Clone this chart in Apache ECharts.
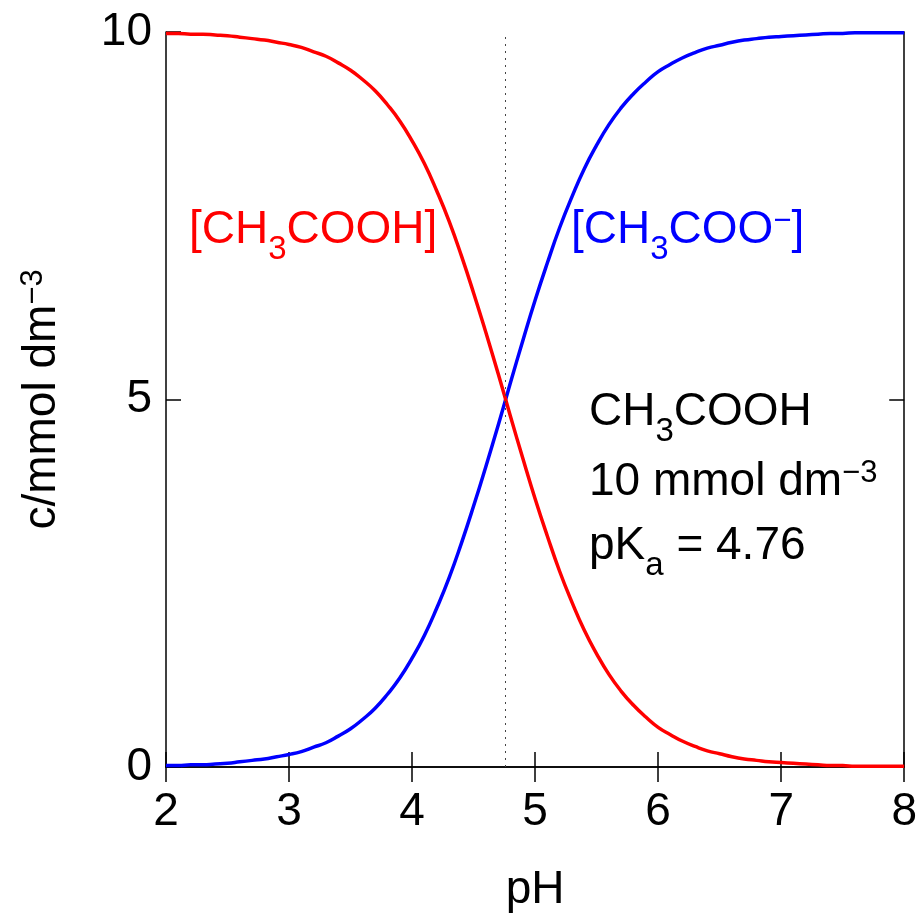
<!DOCTYPE html>
<html>
<head>
<meta charset="utf-8">
<script src="https://cdn.jsdelivr.net/npm/echarts@6/dist/echarts.min.js"></script>
<style>html,body{margin:0;padding:0;background:#fff}#c{width:920px;height:918px}</style>
</head>
<body>
<div id="c"></div>
<script>
// pH values (x)
const pH = [2.0,2.1,2.2,2.3,2.4,2.5,2.6,2.7,2.8,2.9,3.0,3.1,3.2,3.3,3.4,3.5,3.6,3.7,3.8,3.9,
            4.0,4.1,4.2,4.3,4.4,4.5,4.6,4.7,4.8,4.9,5.0,5.1,5.2,5.3,5.4,5.5,5.6,5.7,5.8,5.9,
            6.0,6.1,6.2,6.3,6.4,6.5,6.6,6.7,6.8,6.9,7.0,7.1,7.2,7.3,7.4,7.5,7.6,7.7,7.8,7.9,8.0];
// [CH3COOH] in mmol dm-3
const acid = [9.98,9.98,9.97,9.97,9.96,9.95,9.93,9.91,9.89,9.86,9.83,9.79,9.73,9.67,9.58,9.48,9.35,9.20,9.01,8.79,
              8.52,8.21,7.84,7.43,6.96,6.45,5.91,5.35,4.77,4.20,3.65,3.14,2.66,2.24,1.86,1.54,1.26,1.03,0.84,0.68,
              0.54,0.44,0.35,0.28,0.22,0.18,0.14,0.11,0.09,0.07,0.06,0.05,0.04,0.03,0.02,0.02,0.01,0.01,0.01,0.01,0.01];
// [CH3COO-] in mmol dm-3
const base = [0.02,0.02,0.03,0.03,0.04,0.05,0.07,0.09,0.11,0.14,0.17,0.21,0.27,0.33,0.42,0.52,0.65,0.80,0.99,1.21,
              1.48,1.79,2.16,2.57,3.04,3.55,4.09,4.65,5.23,5.80,6.35,6.86,7.34,7.76,8.14,8.46,8.74,8.97,9.16,9.32,
              9.46,9.56,9.65,9.72,9.78,9.82,9.86,9.89,9.91,9.93,9.94,9.95,9.96,9.97,9.98,9.98,9.99,9.99,9.99,9.99,9.99];
const pKa = 4.76;

const FONT = '"Liberation Sans", Arial, Helvetica, sans-serif';
const FS = 46;
const chart = echarts.init(document.getElementById('c'), null, {renderer:'canvas'});

function rich(color){
  return {
    n:{fontSize:FS,lineHeight:52,color:color,fill:color,fontFamily:FONT},
    s:{fontSize:33,lineHeight:30,padding:[29,0,0,0],color:color,fill:color,fontFamily:FONT,verticalAlign:'top'},
    p:{fontSize:31,lineHeight:30,padding:[2,0,0,0],color:color,fill:color,fontFamily:FONT,verticalAlign:'top'}
  };
}
const axisLine = {show:true,lineStyle:{color:'#000',width:1.5}};
const tick = {show:true,inside:true,length:15,lineStyle:{color:'#000',width:1.5}};

chart.setOption({
  animation:false,
  backgroundColor:'#fff',
  grid:{left:166,right:11,top:32,bottom:145,containLabel:false},
  xAxis:[{
    type:'value',min:2,max:8,interval:1,
    name:'pH',nameLocation:'middle',nameGap:100,
    nameTextStyle:{fontSize:FS,color:'#000',fontFamily:FONT},
    axisLine:axisLine,axisTick:tick,splitLine:{show:false},
    axisLabel:{fontSize:FS,color:'#000',fontFamily:FONT,margin:22}
  },{
    type:'value',min:2,max:8,interval:1,position:'top',
    axisLine:axisLine,axisTick:tick,splitLine:{show:false},axisLabel:{show:false}
  }],
  yAxis:[{
    type:'value',min:0,max:10,interval:5,
    name:'{n|c/mmol dm}{p|−3}',nameLocation:'middle',nameGap:98,nameRotate:90,
    nameTextStyle:{rich:rich('#000')},
    axisLine:axisLine,axisTick:tick,splitLine:{show:false},
    axisLabel:{fontSize:FS,color:'#000',fontFamily:FONT,margin:14}
  },{
    type:'value',min:0,max:10,interval:5,position:'right',
    axisLine:axisLine,axisTick:tick,splitLine:{show:false},axisLabel:{show:false}
  }],
  series:[{
    type:'line',name:'acid',showSymbol:false,smooth:true,
    data:pH.map((x,i)=>[x,acid[i]]),
    lineStyle:{color:'#ff0000',width:3.5},itemStyle:{color:'#ff0000'},
    markLine:{silent:true,symbol:'none',label:{show:false},
      lineStyle:{color:'#444',width:1,type:[2,5]},data:[{xAxis:pKa}]},
    z:3
  },{
    type:'line',name:'base',showSymbol:false,smooth:true,
    data:pH.map((x,i)=>[x,base[i]]),
    lineStyle:{color:'#0000ff',width:3.5},itemStyle:{color:'#0000ff'},z:2
  }],
  graphic:[
    {type:'text',left:189,top:204,style:{text:'{n|[CH}{s|3}{n|COOH]}',fill:'#ff0000',rich:rich('#ff0000')}},
    {type:'text',left:571,top:204,style:{text:'{n|[CH}{s|3}{n|COO}{p|−}{n|]}',fill:'#0000ff',rich:rich('#0000ff')}},
    {type:'text',left:589,top:386,style:{text:'{n|CH}{s|3}{n|COOH}',fill:'#000',rich:rich('#000')}},
    {type:'text',left:589,top:456,style:{text:'{n|10 mmol dm}{p|−3}',fill:'#000',rich:rich('#000')}},
    {type:'text',left:589,top:520,style:{text:'{n|pK}{s|a}{n| = 4.76}',fill:'#000',rich:rich('#000')}}
  ]
});
</script>
</body>
</html>
